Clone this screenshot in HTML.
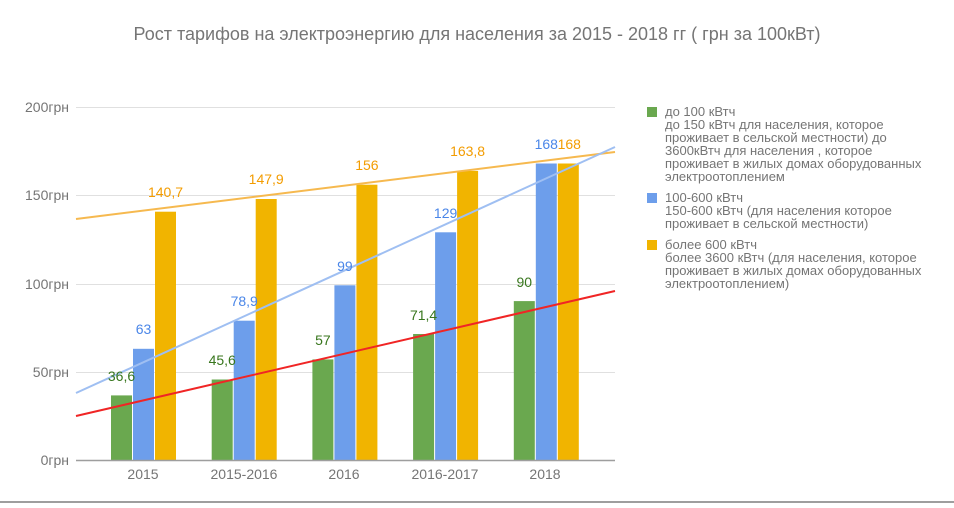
<!DOCTYPE html><html><head><meta charset="utf-8"><style>body{margin:0;background:#fff;width:954px;height:503px;overflow:hidden}svg{font-family:"Liberation Sans",sans-serif}</style></head><body>
<svg width="954" height="503" xmlns="http://www.w3.org/2000/svg">
<text x="477" y="40" text-anchor="middle" font-size="18" fill="#757575">Рост тарифов на электроэнергию для населения за 2015 - 2018 гг ( грн за 100кВт)</text>
<g stroke="#e0e0e0" stroke-width="1"><line x1="76" x2="615" y1="107.5" y2="107.5"/><line x1="76" x2="615" y1="195.5" y2="195.5"/><line x1="76" x2="615" y1="284.5" y2="284.5"/><line x1="76" x2="615" y1="372.5" y2="372.5"/></g>
<g font-size="14" fill="#757575" text-anchor="end"><text x="69" y="112">200грн</text><text x="69" y="200">150грн</text><text x="69" y="289">100грн</text><text x="69" y="377">50грн</text><text x="69" y="465">0грн</text></g>
<g fill="#6aa84f">
<rect x="111" y="395.4" width="21" height="64.6"/><rect x="211.7" y="379.5" width="21" height="80.5"/><rect x="312.4" y="359.4" width="21" height="100.6"/><rect x="413.1" y="334" width="21" height="126"/><rect x="513.8" y="301.1" width="21" height="158.9"/></g>
<g fill="#6d9eeb">
<rect x="133" y="348.8" width="21" height="111.2"/><rect x="233.7" y="320.7" width="21" height="139.3"/><rect x="334.4" y="285.3" width="21" height="174.7"/><rect x="435.1" y="232.3" width="21" height="227.7"/><rect x="535.8" y="163.5" width="21" height="296.5"/></g>
<g fill="#f1b400">
<rect x="155" y="211.7" width="21" height="248.3"/><rect x="255.7" y="199" width="21" height="261"/><rect x="356.4" y="184.7" width="21" height="275.3"/><rect x="457.1" y="170.9" width="21" height="289.1"/><rect x="557.8" y="163.5" width="21" height="296.5"/></g>
<line x1="76" x2="615" y1="460.5" y2="460.5" stroke="#9e9e9e" stroke-width="1.5"/>
<line x1="76" y1="219" x2="615" y2="152" stroke="#f6b94f" stroke-width="2"/>
<line x1="76" y1="393" x2="615" y2="147" stroke="#9fbff2" stroke-width="2"/>
<line x1="76" y1="416" x2="615" y2="291" stroke="#f02525" stroke-width="2"/>
<g font-size="14" text-anchor="middle">
<g fill="#38761d"><text x="121.5" y="381">36,6</text><text x="222.2" y="365">45,6</text><text x="322.9" y="345">57</text><text x="423.6" y="320">71,4</text><text x="524.3" y="287">90</text></g>
<g fill="#4a86e8"><text x="143.5" y="334">63</text><text x="244.2" y="306">78,9</text><text x="344.9" y="271">99</text><text x="445.6" y="218">129</text><text x="546.3" y="149">168</text></g>
<g fill="#f39c00"><text x="165.5" y="197">140,7</text><text x="266.2" y="184">147,9</text><text x="366.9" y="170">156</text><text x="467.6" y="156">163,8</text><text x="569.3" y="149">168</text></g>
</g>
<g font-size="14" fill="#757575" text-anchor="middle"><text x="143" y="479">2015</text><text x="244" y="479">2015-2016</text><text x="344" y="479">2016</text><text x="445" y="479">2016-2017</text><text x="545" y="479">2018</text></g>
<g font-size="13" fill="#757575">
<rect x="647" y="107" width="10" height="10" fill="#6aa84f"/>
<text x="665" y="116">до 100 кВтч</text><text x="665" y="129">до 150 кВтч для населения, которое</text><text x="665" y="142">проживает в сельской местности) до</text><text x="665" y="155">3600кВтч для населения , которое</text><text x="665" y="168">проживает в жилых домах оборудованных</text><text x="665" y="181">электроотоплением</text>
<rect x="647" y="193" width="10" height="10" fill="#6d9eeb"/>
<text x="665" y="202">100-600 кВтч</text><text x="665" y="215">150-600 кВтч (для населения которое</text><text x="665" y="228">проживает в сельской местности)</text>
<rect x="647" y="240" width="10" height="10" fill="#f1b400"/>
<text x="665" y="249">более 600 кВтч</text><text x="665" y="262">более 3600 кВтч (для населения, которое</text><text x="665" y="275">проживает в жилых домах оборудованных</text><text x="665" y="288">электроотоплением)</text>
</g>
<line x1="0" x2="954" y1="502" y2="502" stroke="#9e9e9e" stroke-width="2"/>
</svg></body></html>
